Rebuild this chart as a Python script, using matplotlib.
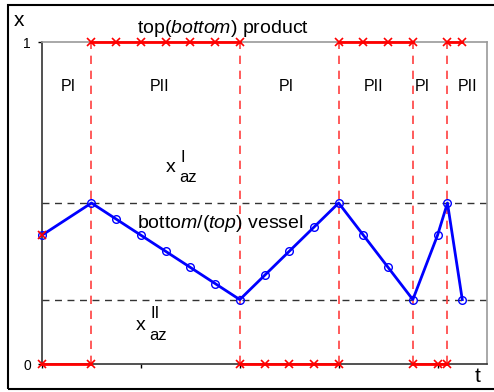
import matplotlib
matplotlib.use("Agg")
import matplotlib.pyplot as plt
from matplotlib.patches import Rectangle

plt.rcParams['font.family'] = ['Liberation Sans', 'DejaVu Sans']
plt.rcParams['mathtext.fontset'] = 'custom'
plt.rcParams['mathtext.rm'] = 'Liberation Sans'
plt.rcParams['mathtext.it'] = 'Liberation Sans:italic'

# vessel composition over time
t_vessel = [0, 2, 3, 4, 5, 6, 7, 8, 9, 10, 11, 12, 13, 14, 15, 16, 16.4, 17]
x_vessel = [0.4, 0.5, 0.45, 0.4, 0.35, 0.3, 0.25, 0.2, 0.275, 0.35, 0.425,
            0.5, 0.4, 0.3, 0.2, 0.4, 0.5, 0.2]

# switching instants between PI and PII
t_switch = [2, 8, 12, 15, 16.4]

# product withdrawn at top (PII) and bottom (PI)
top_segments = [[2, 3, 4, 5, 6, 7, 8], [12, 13, 14, 15], [16.4, 17]]
bottom_segments = [[0, 2], [8, 9, 10, 11, 12], [15, 16, 16.4]]

x_az1 = 0.5
x_az2 = 0.2

phase_labels = ['PI', 'PII', 'PI', 'PII', 'PI', 'PII']
phase_pos = [1.05, 4.77, 9.9, 13.4, 15.37, 17.2]

fig = plt.figure(figsize=(4.94, 3.92), dpi=100)
ax = fig.add_axes([42 / 494, 28 / 392, 445 / 494, 322 / 392])

# outer frame
fig.patches.append(Rectangle((8 / 494, 3 / 392), 1.2, 384 / 392,
                             transform=fig.transFigure, fill=False,
                             edgecolor='black', linewidth=1.5, clip_on=False))

for y in (x_az1, x_az2):
    ax.axhline(y, color='#333333', linestyle=(0, (5, 4)), linewidth=1.0, zorder=1)

for t in t_switch:
    ax.plot([t, t], [0, 1], color='#ff4040', linestyle=(0, (5, 4)),
            linewidth=1.2, zorder=2, clip_on=False)

for seg in top_segments:
    ax.plot(seg, [1] * len(seg), color='red', linewidth=2, marker='x',
            markersize=6, markeredgewidth=1.2, zorder=4, clip_on=False)
for seg in bottom_segments:
    ax.plot(seg, [0] * len(seg), color='red', linewidth=2, marker='x',
            markersize=6, markeredgewidth=1.2, zorder=4, clip_on=False)

ax.plot(t_vessel, x_vessel, color='blue', linewidth=2, marker='o',
        markersize=5.5, markerfacecolor='none', markeredgewidth=1.0,
        zorder=5, clip_on=False)
ax.plot([t_vessel[0]], [x_vessel[0]], color='red', marker='x', markersize=6,
        markeredgewidth=1.2, zorder=6, clip_on=False)

for lab, pos in zip(phase_labels, phase_pos):
    ax.text(pos, 0.862, lab, ha='center', va='center', fontsize=11.5)

ax.text(3.84, 1.029, r'top$\mathit{(bottom)}$ product', ha='left',
        va='baseline', fontsize=14, clip_on=False)
ax.text(3.84, 0.423, r'botto$\mathit{m/(top)}$ vessel', ha='left',
        va='baseline', fontsize=14)

ax.text(5.02, 0.596, 'x', ha='left', va='baseline', fontsize=14)
ax.text(5.6, 0.627, 'I', ha='left', va='baseline', fontsize=12)
ax.text(5.56, 0.565, 'az', ha='left', va='baseline', fontsize=12)

ax.text(3.8, 0.106, 'x', ha='left', va='baseline', fontsize=14)
ax.text(4.37, 0.143, 'II', ha='left', va='baseline', fontsize=12)
ax.text(4.35, 0.075, 'az', ha='left', va='baseline', fontsize=12)

fig.text(19 / 494, 1 - 20 / 392, 'x', ha='center', va='center', fontsize=15)
fig.text(478 / 494, 1 - 377 / 392, 't', ha='center', va='center', fontsize=15)

ax.set_xlim(0, 18)
ax.set_ylim(0, 1)
ax.set_xticks([0, 4, 8, 12, 16])
ax.set_xticklabels([])
ax.set_yticks([0, 1])
ax.set_yticklabels(['0', '1'], fontsize=10)
ax.tick_params(axis='both', direction='out', length=3, width=1, pad=5)

ax.spines['left'].set_color('#333333')
ax.spines['bottom'].set_color('#333333')
ax.spines['top'].set_color('#999999')
ax.spines['right'].set_color('#999999')
for s in ax.spines.values():
    s.set_linewidth(1.2)

fig.savefig('out.png', dpi=100)
